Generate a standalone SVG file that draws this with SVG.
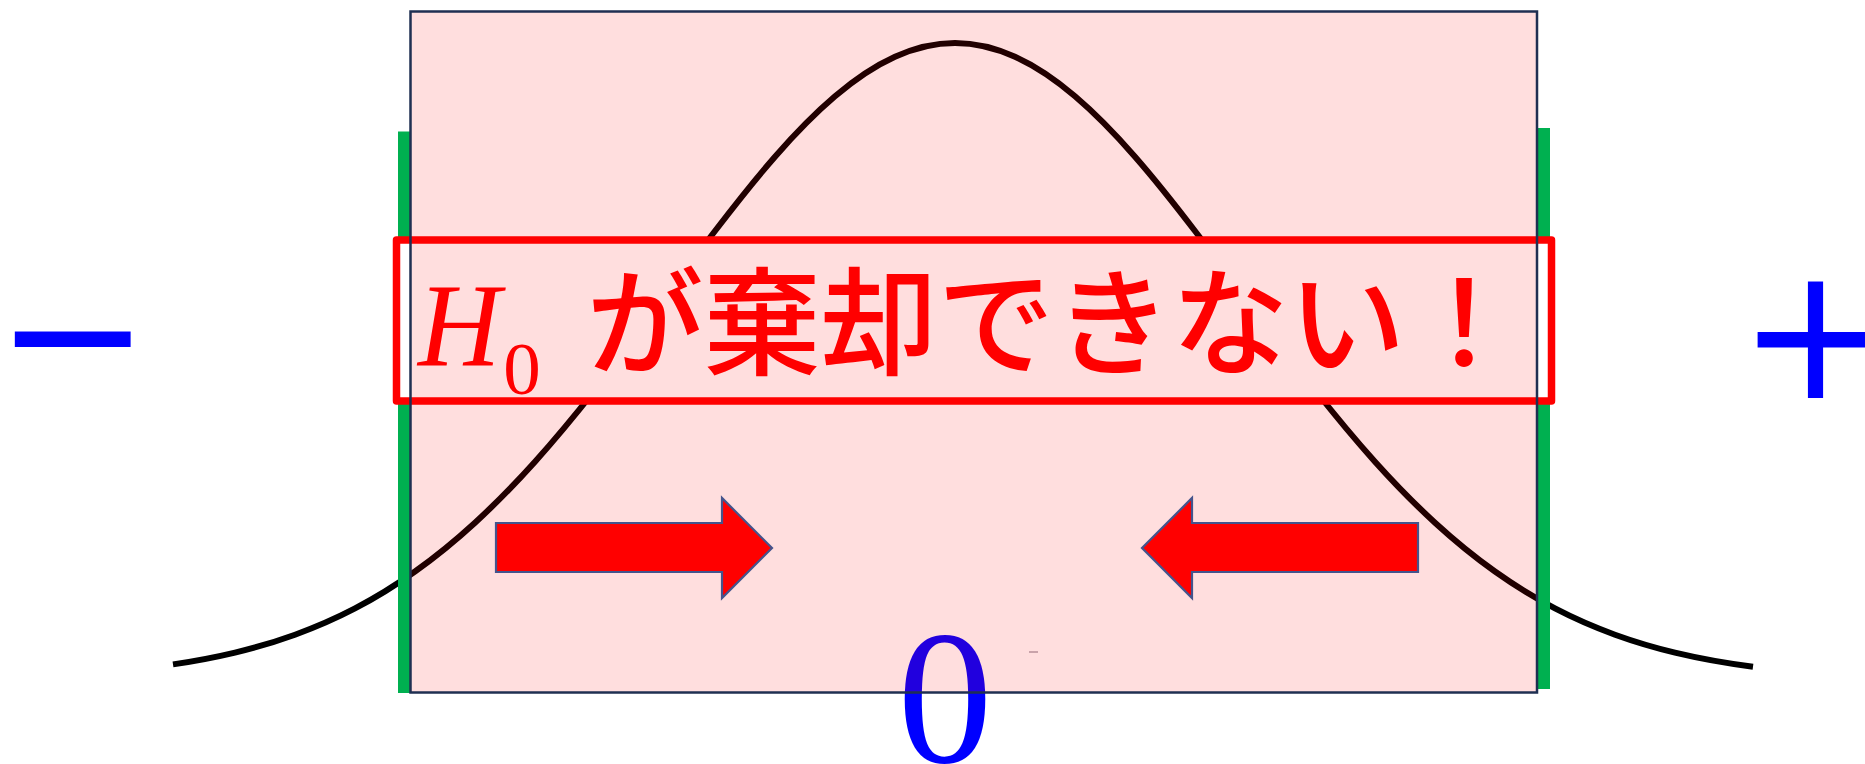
<svg xmlns="http://www.w3.org/2000/svg" width="1865" height="764" viewBox="0 0 1865 764">
<style>
.curve{fill:none;stroke:#000;stroke-width:6;stroke-linejoin:round}
.green{fill:#00b050}
.arrow{fill:#ff0000;stroke:#44548c;stroke-width:2.2;stroke-linejoin:miter}
.sign{font-family:"DejaVu Sans",sans-serif;fill:#0000ff}
.jp{font-family:"Noto Sans CJK JP",sans-serif;fill:#ff0000;font-weight:500}
.ser{font-family:"Liberation Serif",serif;fill:#ff0000}
</style>
<rect width="1865" height="764" fill="#ffffff"/>
<g id="bell-curve">
<path class="curve" d="M173,664.4 C193.67,661.34 214.33,657.55 235,652.6 C255,647.81 275,641.96 295,634.7 C315,627.44 335,618.83 355,608.4 C375,597.97 395,585.73 415,571.5 C435,557.27 455,541.03 475,522.7 C495,504.37 515,483.96 535,461.7 C555,439.44 575,415.35 595,390 C615,364.65 635,337.97 655,311.1 C675,284.23 695,257.17 715,231 C735,204.83 755,179.57 775,156.7 C795,133.83 815,113.31 835,96.3 C855,79.29 875,65.88 895,56.8 C915,47.72 935,43 955,43 C975,43 995,47.72 1015,56.8 C1035,65.88 1055,79.29 1075,96.3 C1095,113.31 1115,133.83 1135,156.7 C1155,179.57 1175,204.83 1195,231 C1215,257.17 1235,284.23 1255,311.1 C1275,337.97 1295,364.65 1315,390 C1335,415.35 1355,439.44 1375,461.7 C1395,483.96 1415,504.37 1435,522.7 C1455,541.03 1475,557.27 1495,571.5 C1515,585.73 1535,597.97 1555,608.4 C1575,618.83 1595,627.44 1615,634.7 C1635,641.96 1655,647.81 1675,652.6 C1701,658.83 1727,663.35 1753,666.7"/>
</g>
<g id="zero-label">
<text x="945" y="762" text-anchor="middle" font-family="Liberation Serif, serif" font-size="190" fill="#0000ff">0</text>
</g>
<g id="critical-lines">
<rect class="green" x="398" y="131.5" width="12" height="561.5"/>
<rect class="green" x="1538" y="128" width="12" height="561"/>
</g>
<g id="message-box-frame">
<rect x="396.5" y="240" width="1155" height="161" fill="#ffffff" stroke="#ff0000" stroke-width="7.5" stroke-linejoin="round"/>
</g>
<g id="acceptance-region">
<rect x="410.5" y="11.5" width="1126.5" height="681" fill="#ff0000" fill-opacity="0.13" stroke="#1f2f52" stroke-width="2.5"/>
<rect x="1029" y="651" width="9" height="2" fill="#c9a3aa"/>
</g>
<g id="message">
<text class="ser" x="0" y="0" font-size="118" font-style="italic" transform="translate(418,365) scale(0.97,1)">H</text>
<text class="ser" x="522" y="394" font-size="75" text-anchor="middle">0</text>
<text class="jp" x="586.5" y="366" font-size="117">が棄却できない！</text>
</g>
<g id="minus-sign">
<text class="sign" x="72.5" y="397" font-size="185" text-anchor="middle">−</text>
</g>
<g id="plus-sign">
<text class="sign" x="1815.5" y="398" font-size="185" text-anchor="middle">+</text>
</g>
<g id="connectors">
<polygon class="arrow" points="496,523 722,523 722,498 772,548 722,598 722,572 496,572"/>
<polygon class="arrow" points="1418,523 1192,523 1192,498 1142,548 1192,598 1192,572 1418,572"/>
</g>
</svg>
